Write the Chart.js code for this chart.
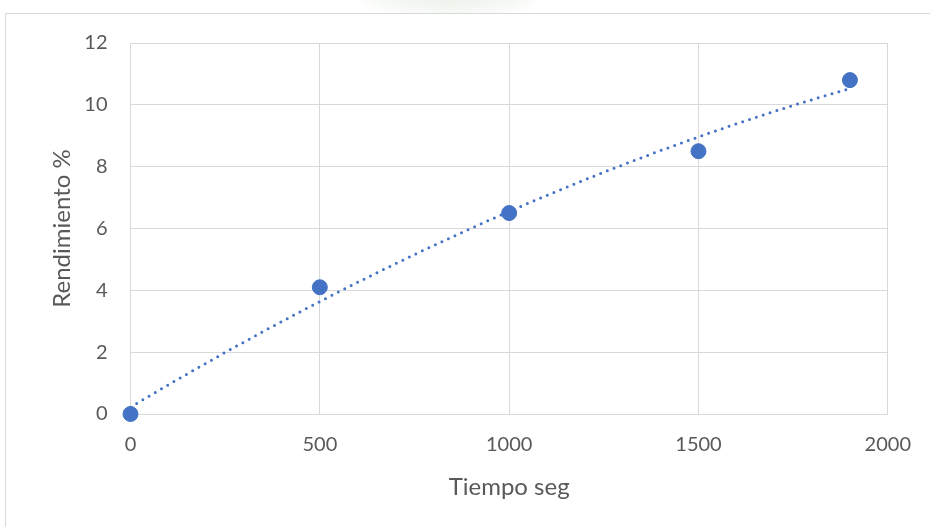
<!DOCTYPE html>
<html>
<head>
<meta charset="utf-8">
<script src="https://cdn.jsdelivr.net/npm/chart.js@4"></script>
<style>
  html, body { margin: 0; padding: 0; background: #ffffff; }
  #wrap { position: relative; width: 930px; height: 527px; overflow: hidden; }
  #emblem {
    position: absolute; left: 350px; top: -40px; width: 200px; height: 60px;
    border-radius: 50%;
    background: radial-gradient(ellipse at center, rgba(120,160,110,0.18), rgba(150,185,140,0.08) 55%, rgba(255,255,255,0) 75%);
    filter: blur(4px);
  }
  #frame {
    position: absolute; left: 5px; top: 13px; width: 940px; height: 540px;
    border: 1px solid #d9d9d9; box-sizing: border-box; background: #ffffff;
  }
  #c { position: absolute; left: 0; top: 0; }
</style>
</head>
<body>
<div id="wrap">
  <div id="emblem"></div>
  <div id="frame"></div>
  <canvas id="c" width="930" height="527"></canvas>
</div>
<script>
// Measured yield over time
const tiempoSeg = [0, 500, 1000, 1500, 1900];
const rendimiento = [0, 4.1, 6.5, 8.5, 10.8];
const xTicks = [0, 500, 1000, 1500, 2000];
const yTicks = [0, 2, 4, 6, 8, 10, 12];

const azul = '#4472C4';
const rejilla = '#d9d9d9';
const texto = '#595959';
const fuente = 'Lato, "Open Sans", "Noto Sans", sans-serif';

// Second-order least-squares trend through the measured points
function ajusteCuadratico(xs, ys) {
  const s = [0, 0, 0, 0, 0], t = [0, 0, 0];
  for (let i = 0; i < xs.length; i++) {
    const x = xs[i] / 1000;
    for (let k = 0; k <= 4; k++) s[k] += Math.pow(x, k);
    for (let k = 0; k <= 2; k++) t[k] += ys[i] * Math.pow(x, k);
  }
  const M = [[s[0], s[1], s[2], t[0]], [s[1], s[2], s[3], t[1]], [s[2], s[3], s[4], t[2]]];
  for (let c = 0; c < 3; c++) {
    for (let r = c + 1; r < 3; r++) {
      const f = M[r][c] / M[c][c];
      for (let k = c; k < 4; k++) M[r][k] -= f * M[c][k];
    }
  }
  const b = [0, 0, 0];
  for (let r = 2; r >= 0; r--) {
    let v = M[r][3];
    for (let k = r + 1; k < 3; k++) v -= M[r][k] * b[k];
    b[r] = v / M[r][r];
  }
  return x => b[0] + b[1] * (x / 1000) + b[2] * Math.pow(x / 1000, 2);
}
const tendencia = ajusteCuadratico(tiempoSeg, rendimiento);
const xMin = tiempoSeg[0], xMax = tiempoSeg[tiempoSeg.length - 1];
const curva = [];
for (let i = 0; i <= 76; i++) {
  const x = xMin + (xMax - xMin) * i / 76;
  curva.push({ x: x, y: tendencia(x) });
}

new Chart(document.getElementById('c'), {
  type: 'scatter',
  data: {
    datasets: [
      {
        label: 'Rendimiento',
        data: tiempoSeg.map((x, i) => ({ x: x, y: rendimiento[i] })),
        backgroundColor: azul,
        borderColor: azul,
        pointRadius: 7.5,
        pointHoverRadius: 7.5,
        clip: false,
        order: 1
      },
      {
        label: 'Tendencia',
        type: 'line',
        data: curva,
        borderColor: azul,
        borderWidth: 3,
        borderDash: [0, 7.2],
        borderCapStyle: 'round',
        pointRadius: 0,
        fill: false,
        tension: 0,
        clip: false,
        order: 2
      }
    ]
  },
  options: {
    responsive: false,
    animation: false,
    devicePixelRatio: 1,
    layout: { padding: { left: 0, right: 41, top: 43, bottom: 0 } },
    plugins: { legend: { display: false }, tooltip: { enabled: false } },
    scales: {
      x: {
        type: 'linear',
        min: 0, max: 2000,
        afterBuildTicks: s => { s.ticks = xTicks.map(v => ({ value: v })); },
        afterFit: s => { s.height = 113; },
        grid: { color: rejilla, lineWidth: 1, drawTicks: false },
        border: { color: rejilla, width: 1 },
        ticks: { color: texto, font: { family: fuente, size: 20 }, padding: 19, maxRotation: 0, callback: v => String(v) },
        title: { display: true, text: 'Tiempo seg', color: texto, font: { family: fuente, size: 24 }, padding: { top: 0, bottom: 25 } }
      },
      y: {
        type: 'linear',
        min: 0, max: 12,
        afterBuildTicks: s => { s.ticks = yTicks.map(v => ({ value: v })); },
        afterFit: s => { s.width = 130.5; },
        grid: { color: rejilla, lineWidth: 1, drawTicks: false },
        border: { color: rejilla, width: 1 },
        ticks: { color: texto, font: { family: fuente, size: 20 }, padding: 23, callback: v => String(v) },
        title: { display: true, text: 'Rendimiento %', color: texto, font: { family: fuente, size: 24 }, padding: { top: 48, bottom: 0 } }
      }
    }
  }
});
</script>
</body>
</html>
